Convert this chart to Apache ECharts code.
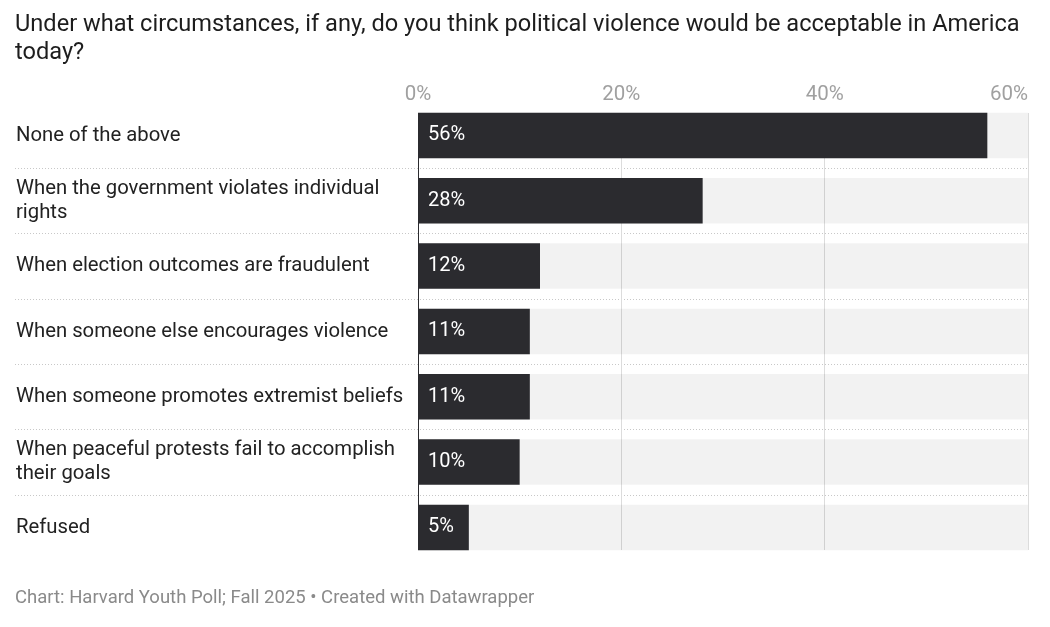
<!DOCTYPE html>
<html>
<head>
<meta charset="utf-8">
<script src="https://cdn.jsdelivr.net/npm/echarts@6/dist/echarts.min.js"></script>
<style>
  html, body { margin: 0; padding: 0; background: #fff; }
  #chart { width: 1050px; height: 627px; }
</style>
</head>
<body>
<div id="chart"></div>
<script>
// 数据
var categories = [
    'None of the above',
    'When the government violates individual rights',
    'When election outcomes are fraudulent',
    'When someone else encourages violence',
    'When someone promotes extremist beliefs',
    'When peaceful protests fail to accomplish their goals',
    'Refused'
];
var shares = [56, 28, 12, 11, 11, 10, 5];
var axisTicks = [0, 20, 40, 60];

var font = 'Roboto, "Noto Sans", sans-serif';
var myChart = echarts.init(document.getElementById('chart'));

var option = {
    backgroundColor: '#fff',
    animation: false,
    title: [{
        text: 'Under what circumstances, if any, do you think political violence would be acceptable in America\ntoday?',
        left: 10,
        top: 6,
        textStyle: { fontFamily: font, fontSize: 23.6, fontWeight: 'normal', color: '#1d1d1d', lineHeight: 28 }
    }, {
        text: 'Chart: Harvard Youth Poll; Fall 2025 \u2022 Created with Datawrapper',
        left: 10,
        top: 584,
        textStyle: { fontFamily: font, fontSize: 18.5, fontWeight: 'normal', color: '#8a8a8a' }
    }],
    grid: [
        // 柱子
        { left: 418, right: 22, top: 102.8, height: 457.3 },
        // 竖向网格线
        { left: 418, right: 22, top: 113, height: 437 },
        // 行分隔虚线
        { left: 15, right: 22, top: 102.8, height: 457.3 }
    ],
    xAxis: [{
        gridIndex: 0, type: 'value', min: 0, max: 60, show: false
    }, {
        gridIndex: 1, type: 'value', position: 'top',
        min: axisTicks[0], max: axisTicks[axisTicks.length - 1], interval: 20,
        axisLine: { show: false },
        axisTick: { show: false },
        axisLabel: {
            formatter: '{value}%', fontFamily: font, fontSize: 20.5, color: '#a0a0a0',
            margin: 8, alignMaxLabel: 'right'
        },
        splitLine: { show: true, lineStyle: { color: ['#2b2b2f', '#dcdcdc', '#dcdcdc', '#dcdcdc'], width: 1 } }
    }, {
        gridIndex: 2, type: 'value', min: 0, max: 60, show: false
    }],
    yAxis: [{
        gridIndex: 0, type: 'category', data: categories, inverse: true,
        axisLine: { show: false },
        axisTick: { show: false },
        axisLabel: {
            align: 'left', margin: 402, width: 398, overflow: 'break',
            fontFamily: font, fontSize: 20.3, color: '#222', lineHeight: 24,
            padding: [2, 0, 0, 0]
        }
    }, {
        gridIndex: 1, type: 'value', show: false
    }, {
        gridIndex: 2, type: 'category', data: categories, inverse: true,
        axisLine: { show: false },
        axisTick: { show: false },
        axisLabel: { show: false },
        splitLine: {
            show: true, interval: 0, showMinLine: false, showMaxLine: false,
            lineStyle: { color: '#c8c8c8', type: [1, 2], width: 1 }
        }
    }],
    series: [{
        type: 'bar',
        xAxisIndex: 0,
        yAxisIndex: 0,
        data: shares,
        barWidth: 45.5,
        itemStyle: { color: '#2b2b2f' },
        showBackground: true,
        backgroundStyle: { color: 'rgba(0,0,0,0.05)' },
        label: {
            show: true, position: 'insideLeft', distance: 10,
            formatter: '{c}%', fontFamily: font, fontSize: 20, color: '#fff'
        }
    }]
};
myChart.setOption(option);
</script>
</body>
</html>
